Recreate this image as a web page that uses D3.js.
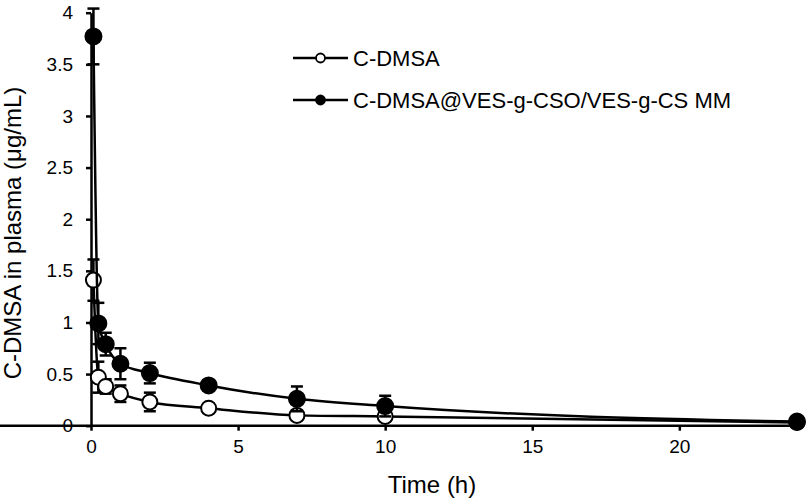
<!DOCTYPE html>
<html>
<head>
<meta charset="utf-8">
<script src="https://cdn.jsdelivr.net/npm/d3@7"></script>
<style>
  body { margin: 0; background: #fff; }
  svg { display: block; font-family: Arial, "Liberation Sans", sans-serif; }
</style>
</head>
<body>
<svg id="chart" width="810" height="499"></svg>
<script>
// sampling times (h)
var times = [0.083, 0.25, 0.5, 1, 2, 4, 7, 10, 24];

// free drug
var freeMean = [1.41, 0.47, 0.38, 0.31, 0.23, 0.17, 0.10, 0.09, 0.03];
var freeErr  = [0.20, 0.15, 0.07, 0.08, 0.09, 0.04, 0.03, 0.03, 0.01];

// micelles
var mmMean = [3.77, 0.99, 0.79, 0.60, 0.51, 0.39, 0.26, 0.19, 0.04];
var mmErr  = [0.27, 0.20, 0.11, 0.15, 0.10, 0.05, 0.12, 0.10, 0.01];

var seriesNames = ["C-DMSA", "C-DMSA@VES-g-CSO/VES-g-CS MM"];
var xTicks = [0, 5, 10, 15, 20];
var yTicks = [0, 0.5, 1, 1.5, 2, 2.5, 3, 3.5, 4];

var svg = d3.select("#chart");

var x = d3.scaleLinear().domain([0, 24]).range([91, 797]);
var y = d3.scaleLinear().domain([0, 4]).range([425.7, 12.7]);

//axes
var xAxis = svg.append("g")
  .attr("transform", "translate(0," + y(0) + ")")
  .call(d3.axisBottom(x).tickValues(xTicks).tickSize(5).tickSizeOuter(0).tickPadding(9));
var yAxis = svg.append("g")
  .attr("transform", "translate(" + x(0) + ",0)")
  .call(d3.axisLeft(y).tickValues(yTicks).tickSize(5).tickSizeOuter(0).tickPadding(13)
    .tickFormat(function(d){ return String(d); }));

[xAxis, yAxis].forEach(function(a){
  a.select(".domain").attr("stroke", "#000").attr("stroke-width", 2.5);
  a.selectAll(".tick line").attr("stroke", "#000").attr("stroke-width", 2.5);
  a.selectAll(".tick text").attr("fill", "#000").style("font-size", "19px");
});
// axis line goes a little past the last point
xAxis.select(".domain").attr("d", "M0,0H803");

// axis titles
svg.append("text")
  .attr("x", 432).attr("y", 493)
  .attr("text-anchor", "middle")
  .style("font-size", "24px")
  .text("Time (h)");

svg.append("text")
  .attr("transform", "translate(21,233) rotate(-90)")
  .attr("text-anchor", "middle")
  .style("font-size", "24px")
  .text("C-DMSA in plasma (\u03bcg/mL)");

var line = d3.line()
  .x(function(d){ return x(d.t); })
  .y(function(d){ return y(d.v); })
  .curve(d3.curveMonotoneX);

function toRows(mean, err) {
  return times.map(function(t, i){ return { t: t, v: mean[i], e: err[i] }; });
}

var series = [
  { rows: toRows(freeMean, freeErr), fill: "#fff", r: 7.5 },
  { rows: toRows(mmMean, mmErr), fill: "#000", r: 8 }
];

series.forEach(function(s){
  var g = svg.append("g");

  g.append("path")
    .datum(s.rows)
    .attr("d", line)
    .attr("fill", "none")
    .attr("stroke", "#000")
    .attr("stroke-width", 2.5);

  var bars = g.selectAll(".err")
    .data(s.rows)
    .enter()
    .append("g")
    .attr("class", "err");

  bars.append("line")
    .attr("x1", function(d){ return x(d.t); })
    .attr("x2", function(d){ return x(d.t); })
    .attr("y1", function(d){ return y(d.v + d.e); })
    .attr("y2", function(d){ return y(d.v - d.e); })
    .attr("stroke", "#000").attr("stroke-width", 2.5);

  [1, -1].forEach(function(sign){
    bars.append("line")
      .attr("x1", function(d){ return x(d.t) - 6; })
      .attr("x2", function(d){ return x(d.t) + 6; })
      .attr("y1", function(d){ return y(d.v + sign * d.e); })
      .attr("y2", function(d){ return y(d.v + sign * d.e); })
      .attr("stroke", "#000").attr("stroke-width", 2.5);
  });

  g.selectAll("circle")
    .data(s.rows)
    .enter()
    .append("circle")
    .attr("cx", function(d){ return x(d.t); })
    .attr("cy", function(d){ return y(d.v); })
    .attr("r", s.r)
    .attr("fill", s.fill)
    .attr("stroke", "#000")
    .attr("stroke-width", 2);
});

// legend
var legend = svg.selectAll(".legend")
  .data(seriesNames)
  .enter()
  .append("g")
  .attr("class", "legend")
  .attr("transform", function(d, i){ return "translate(293," + (58 + i * 42) + ")"; });

legend.append("line")
  .attr("x1", 0).attr("x2", 55)
  .attr("stroke", "#000").attr("stroke-width", 2.5);

legend.append("circle")
  .attr("cx", 27.5).attr("r", 4.5)
  .attr("fill", function(d, i){ return series[i].fill; })
  .attr("stroke", "#000").attr("stroke-width", 1.8);

legend.append("text")
  .attr("x", 60).attr("y", 8)
  .style("font-size", "22px")
  .text(function(d){ return d; });
</script>
</body>
</html>
